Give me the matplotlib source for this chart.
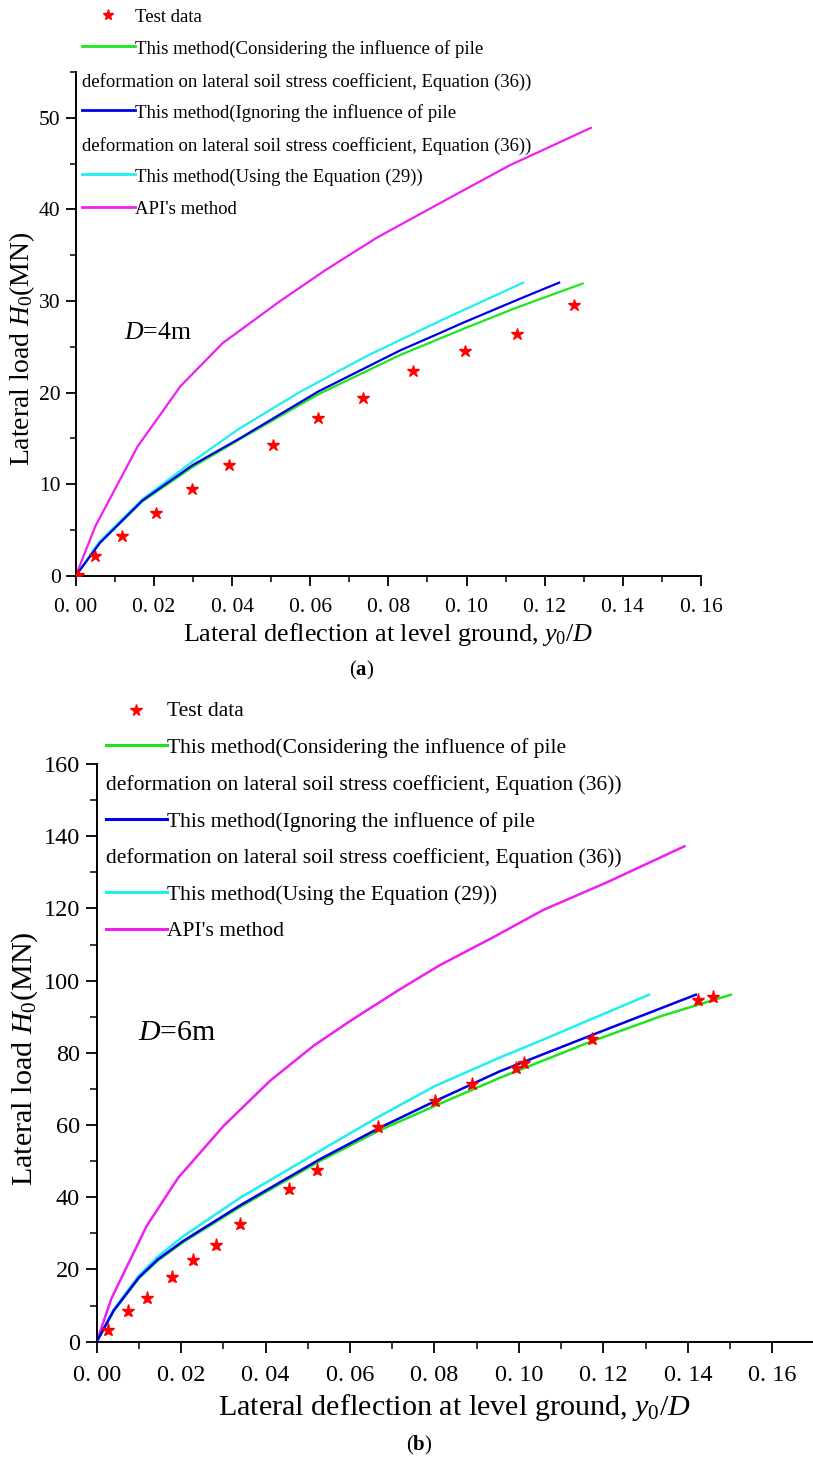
import matplotlib
matplotlib.use("Agg")
import matplotlib.pyplot as plt
from matplotlib.lines import Line2D
from matplotlib.ticker import MultipleLocator

plt.rcParams['font.family'] = ['Liberation Serif', 'DejaVu Serif']
plt.rcParams['mathtext.fontset'] = 'custom'
plt.rcParams['mathtext.rm'] = 'Liberation Serif'
plt.rcParams['mathtext.it'] = 'Liberation Serif:italic'
plt.rcParams['mathtext.bf'] = 'Liberation Serif:bold'

# ---------------- data: (a) D = 4 m ----------------
a_test_x = [0.0005, 0.0048, 0.0118, 0.0205, 0.0298, 0.0393, 0.0505, 0.0619, 0.0735, 0.0864, 0.0997, 0.1130, 0.1274]
a_test_y = [0.1, 2.15, 4.37, 6.9, 9.5, 12.1, 14.3, 17.2, 19.4, 22.3, 24.5, 26.4, 29.6]
a_green_x = [0, 0.0062, 0.017, 0.030, 0.042, 0.062, 0.083, 0.0932, 0.100, 0.113, 0.1297]
a_green_y = [0, 3.6, 8.1, 11.9, 14.9, 19.8, 24.1, 25.9, 27.1, 29.3, 31.9]
a_blue_x = [0, 0.0062, 0.017, 0.030, 0.042, 0.062, 0.083, 0.0932, 0.099, 0.114, 0.1237]
a_blue_y = [0, 3.6, 8.2, 12.1, 15.0, 20.1, 24.6, 26.5, 27.6, 30.3, 32.0]
a_cyan_x = [0, 0.006, 0.0172, 0.030, 0.0416, 0.0575, 0.0745, 0.0936, 0.1145]
a_cyan_y = [0, 3.7, 8.4, 12.5, 16.0, 20.1, 24.0, 27.9, 32.0]
a_api_x = [0, 0.005, 0.0158, 0.0268, 0.0376, 0.052, 0.064, 0.077, 0.095, 0.111, 0.1318]
a_api_y = [0, 5.4, 14.1, 20.7, 25.4, 29.9, 33.4, 36.9, 41.1, 44.8, 48.9]
a_xticks = [0.00, 0.02, 0.04, 0.06, 0.08, 0.10, 0.12, 0.14, 0.16]
a_xticklabels = ["0. 00", "0. 02", "0. 04", "0. 06", "0. 08", "0. 10", "0. 12", "0. 14", "0. 16"]
a_yticks = [0, 10, 20, 30, 40, 50]
a_yticklabels = ["0", "10", "20", "30", "40", "50"]

# ---------------- data: (b) D = 6 m ----------------
b_test_x = [0.0027, 0.0074, 0.0120, 0.0178, 0.0228, 0.0283, 0.0340, 0.0456, 0.0522, 0.0667, 0.0801, 0.0888, 0.0993, 0.1012, 0.1172, 0.1425, 0.1460]
b_test_y = [3.3, 8.4, 12.0, 17.8, 22.5, 26.7, 32.6, 42.4, 47.5, 59.4, 66.6, 71.5, 75.7, 77.1, 83.7, 94.6, 95.5]
b_green_x = [0, 0.004, 0.010, 0.0145, 0.0205, 0.0339, 0.0528, 0.0671, 0.0801, 0.0955, 0.1168, 0.134, 0.1502]
b_green_y = [0, 8.5, 17.6, 22.5, 27.6, 37.3, 50.0, 58.6, 65.3, 73.1, 83.0, 90.3, 96.1]
b_blue_x = [0, 0.004, 0.010, 0.0145, 0.0205, 0.0339, 0.0528, 0.0671, 0.0801, 0.0955, 0.1168, 0.1419]
b_blue_y = [0, 8.6, 17.8, 22.8, 27.9, 37.7, 50.5, 59.3, 66.6, 74.9, 84.7, 96.1]
b_cyan_x = [0, 0.004, 0.010, 0.0145, 0.0205, 0.0339, 0.0528, 0.0663, 0.0801, 0.0955, 0.105, 0.1308]
b_cyan_y = [0, 8.8, 18.3, 23.6, 29.2, 39.8, 52.8, 62.0, 70.8, 78.7, 83.3, 96.1]
b_api_x = [0, 0.0035, 0.0118, 0.0193, 0.030, 0.041, 0.0513, 0.060, 0.0718, 0.0813, 0.0939, 0.1058, 0.1208, 0.1392]
b_api_y = [0, 12.0, 32.0, 45.4, 59.7, 72.2, 81.9, 88.8, 97.6, 104.3, 112.0, 119.6, 127.2, 137.2]
b_xticks = [0.00, 0.02, 0.04, 0.06, 0.08, 0.10, 0.12, 0.14, 0.16]
b_xticklabels = ["0. 00", "0. 02", "0. 04", "0. 06", "0. 08", "0. 10", "0. 12", "0. 14", "0. 16"]
b_yticks = [0, 20, 40, 60, 80, 100, 120, 140, 160]
b_yticklabels = ["0", "20", "40", "60", "80", "100", "120", "140", "160"]

legend_labels = [
    "Test data",
    "This method(Considering the influence of pile",
    "deformation on lateral soil stress coefficient, Equation (36))",
    "This method(Ignoring the influence of pile",
    "deformation on lateral soil stress coefficient, Equation (36))",
    "This method(Using the Equation (29))",
    "API's method",
]

C_GREEN = '#1ee61e'
C_BLUE = '#0000e6'
C_CYAN = '#1ef0f0'
C_MAG = '#f01ef0'
C_RED = '#ff0000'

W, H = 813, 1459
fig = plt.figure(figsize=(W / 100, H / 100), dpi=100)


def fx(px):
    return px / W


def fy(py):
    return 1 - py / H


def style_axes(ax, tick_fs, major_len=7, minor_len=4):
    for s in ['top', 'right']:
        ax.spines[s].set_visible(False)
    for s in ['left', 'bottom']:
        ax.spines[s].set_linewidth(1.4)
    ax.tick_params(which='major', direction='out', length=major_len, width=1.3,
                   labelsize=tick_fs, colors='black')
    ax.tick_params(which='minor', direction='out', length=minor_len, width=1.1)


def draw_legend(rows_y, x_line0, x_line1, fs, lw=2.0, ms=7):
    colors = [None, C_GREEN, None, C_BLUE, None, C_CYAN, C_MAG]
    for i, (lab, yy) in enumerate(zip(legend_labels, rows_y)):
        if i == 0:
            fig.add_artist(Line2D([fx((x_line0 + x_line1) / 2 - 1)], [fy(yy - 2)], marker='*',
                                  color=C_RED, markersize=ms, linestyle='none',
                                  transform=fig.transFigure))
            fig.text(fx(x_line1), fy(yy), lab, fontsize=fs, va='center', ha='left')
        elif colors[i] is None:
            fig.text(fx(x_line0), fy(yy), lab, fontsize=fs, va='center', ha='left')
        else:
            fig.add_artist(Line2D([fx(x_line0), fx(x_line1)], [fy(yy - 3), fy(yy - 3)],
                                  color=colors[i], linewidth=lw, transform=fig.transFigure))
            fig.text(fx(x_line1), fy(yy), lab, fontsize=fs, va='center', ha='left')


# ---------------- panel (a) ----------------
ax1 = fig.add_axes([fx(75.8), fy(575.7), fx(701 - 75.8), (575.7 - 72) / H])
ax1.plot(a_green_x, a_green_y, color=C_GREEN, lw=1.6, zorder=2)
ax1.plot(a_blue_x, a_blue_y, color=C_BLUE, lw=1.6, zorder=3)
ax1.plot(a_cyan_x, a_cyan_y, color=C_CYAN, lw=1.6, zorder=2)
ax1.plot(a_api_x, a_api_y, color=C_MAG, lw=1.6, zorder=2)
ax1.plot(a_test_x, a_test_y, linestyle='none', marker='*', color=C_RED, markersize=9, zorder=4)
ax1.set_xlim(0, 0.16)
ax1.set_ylim(0, 55)
ax1.set_xticks(a_xticks)
ax1.set_xticklabels(a_xticklabels)
ax1.set_yticks(a_yticks)
ax1.set_yticklabels(a_yticklabels)
ax1.xaxis.set_minor_locator(MultipleLocator(0.01))
ax1.yaxis.set_minor_locator(MultipleLocator(5))
style_axes(ax1, 15.5)
ax1.tick_params(axis='x', which='major', pad=9)
ax1.tick_params(axis='y', which='major', pad=4)
ax1.set_xlabel(r"Lateral deflection at level ground, $y_{\mathit{0}}/D$", fontsize=18.8, labelpad=3)
ax1.set_ylabel(r"Lateral load $H_{\mathit{0}}$(MN)", fontsize=20)
ax1.yaxis.set_label_coords(-0.062, 0.45)
ax1.text(0.0123, 26.5, r"$D$=4m", fontsize=18.5, va='center', ha='left')
fig.text(fx(362), fy(670), r"($\mathbf{a}$)", fontsize=15, ha='center', va='center')
draw_legend([17, 49, 82, 113, 146, 177, 210], 82, 135, 13.5, ms=8)

# ---------------- panel (b) ----------------
ax2 = fig.add_axes([fx(96.7), fy(1341.7), fx(813 - 96.7), (1341.7 - 764) / H])
ax2.plot(b_green_x, b_green_y, color=C_GREEN, lw=1.8, zorder=2)
ax2.plot(b_blue_x, b_blue_y, color=C_BLUE, lw=1.8, zorder=3)
ax2.plot(b_cyan_x, b_cyan_y, color=C_CYAN, lw=1.8, zorder=2)
ax2.plot(b_api_x, b_api_y, color=C_MAG, lw=1.8, zorder=2)
ax2.plot(b_test_x, b_test_y, linestyle='none', marker='*', color=C_RED, markersize=9.5, zorder=4)
ax2.set_xlim(0, (813 - 96.7) / 4222)
ax2.set_ylim(0, 160)
ax2.set_xticks(b_xticks)
ax2.set_xticklabels(b_xticklabels)
ax2.set_yticks(b_yticks)
ax2.set_yticklabels(b_yticklabels)
ax2.xaxis.set_minor_locator(MultipleLocator(0.01))
ax2.yaxis.set_minor_locator(MultipleLocator(10))
style_axes(ax2, 17.5, major_len=8, minor_len=5)
ax2.tick_params(axis='x', which='major', pad=9)
ax2.tick_params(axis='y', which='major', pad=4)
ax2.set_xlabel(r"Lateral deflection at level ground, $y_{\mathit{0}}/D$", fontsize=21.7, labelpad=4)
ax2.set_ylabel(r"Lateral load $H_{\mathit{0}}$(MN)", fontsize=21.7)
ax2.yaxis.set_label_coords(-0.079, 0.49)
ax2.text(0.0098, 85.6, r"$D$=6m", fontsize=21.5, va='center', ha='left')
fig.text(fx(419), fy(1445), r"($\mathbf{b}$)", fontsize=15, ha='center', va='center')
draw_legend([711.7, 748.4, 785.1, 821.8, 858.5, 895.2, 931.9], 106, 167, 15.5, lw=2.2, ms=8.5)

fig.savefig("out.png", dpi=100)
